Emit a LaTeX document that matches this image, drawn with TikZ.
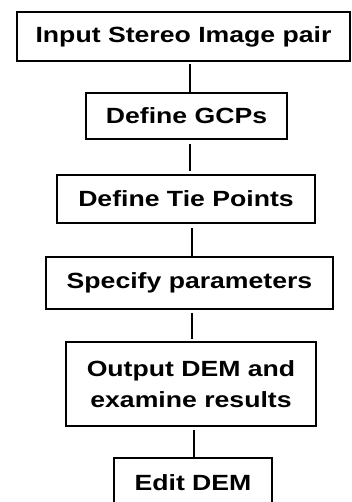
\documentclass[tikz,border=0pt]{standalone}
\usepackage{fontspec}
\setmainfont{Liberation Sans}[FakeStretch=1.21]
\begin{document}
\begin{tikzpicture}[x=1pt,y=-1pt,
  stepbox/.style={draw=black,line width=1.6pt,inner sep=0pt,align=center,
    font=\fontsize{22}{31}\selectfont\bfseries},
  link/.style={draw=black,line width=1.5pt}]
\useasboundingbox (0,0) rectangle (351,502);
\clip (0,0) rectangle (351,502);
\node[stepbox,minimum width=333pt,minimum height=49pt] (n1) at (183.5,36.5) {Input Stereo Image pair};
\node[stepbox,minimum width=201pt,minimum height=46pt] (n2) at (186.5,116) {Define GCPs};
\node[stepbox,minimum width=258pt,minimum height=48pt] (n3) at (186,199) {Define Tie Points};
\node[stepbox,minimum width=287pt,minimum height=52pt] (n4) at (189.5,283) {Specify parameters};
\node[stepbox,minimum width=250pt,minimum height=84pt] (n5) at (191,384) {Output DEM and\\examine results};
\node[stepbox,minimum width=158pt,minimum height=50pt,anchor=north] (n6) at (193,457) {\raisebox{-2pt}{Edit DEM}};
\draw[link] ([xshift=6.5pt,yshift=-2pt]n1.south) -- ([xshift=3.5pt]n2.north);
\draw[link] ([xshift=3.5pt,yshift=-4pt]n2.south) -- ([xshift=4pt,yshift=3pt]n3.north);
\draw[link] ([xshift=6pt,yshift=-4pt]n3.south) -- ([xshift=2.5pt]n4.north);
\draw[link] ([xshift=2.5pt,yshift=-3pt]n4.south) -- ([xshift=1pt,yshift=2pt]n5.north);
\draw[link] ([xshift=3pt,yshift=-3pt]n5.south) -- ([xshift=1pt]n6.north);
\end{tikzpicture}
\end{document}
